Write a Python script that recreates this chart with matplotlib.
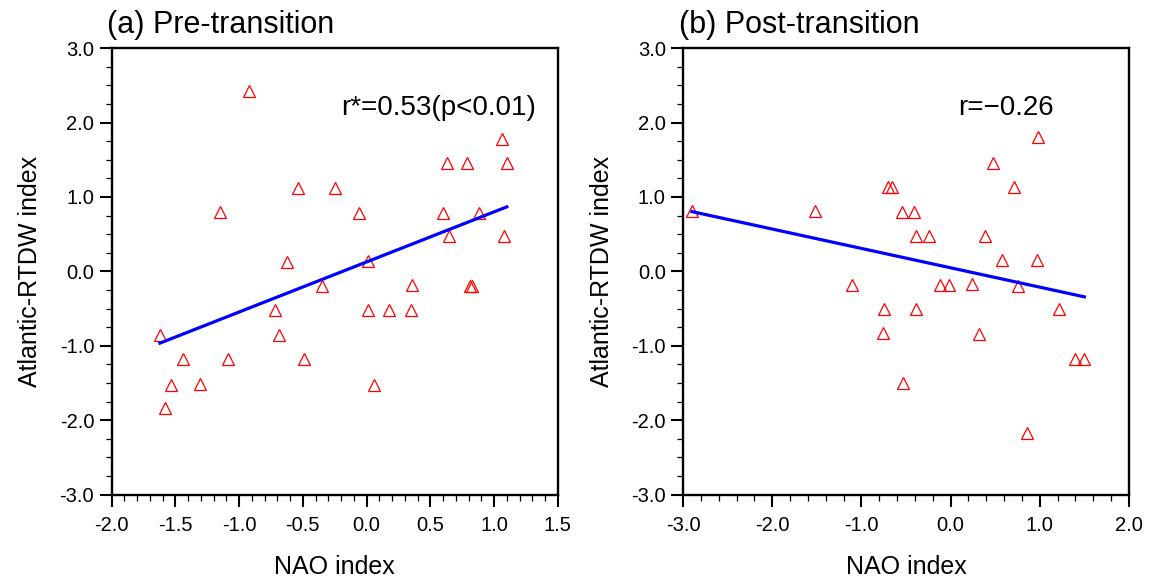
import numpy as np
import matplotlib
matplotlib.use("Agg")
import matplotlib.pyplot as plt
from matplotlib.ticker import MultipleLocator, FuncFormatter

plt.rcParams["font.family"] = ["Liberation Sans", "DejaVu Sans"]

# (a) pre-transition: NAO index vs Atlantic-RTDW index
pre_nao = [-0.92, -0.54, -1.15, -0.62,
           1.06, 0.63, 0.79, 1.10, -0.25, -0.06, 0.60, 0.88, 0.65, 1.08, 0.01,
           -1.62, -1.44, -1.53, -1.58, -1.31, -1.09, -0.72, -0.69, -0.49, -0.35,
           0.36, 0.81, 0.83, 0.01, 0.18, 0.35, 0.06]
pre_rtdw = [2.43, 1.12, 0.80, 0.13,
            1.78, 1.45, 1.45, 1.45, 1.12, 0.79, 0.79, 0.79, 0.47, 0.47, 0.14,
            -0.86, -1.18, -1.52, -1.84, -1.51, -1.18, -0.52, -0.85, -1.18, -0.19,
            -0.18, -0.19, -0.19, -0.52, -0.52, -0.52, -1.52]

# (b) post-transition
post_nao = [-2.90, -1.52, -0.70, -0.66,
            0.98, 0.47, 0.71, -0.54, -0.41, -0.39, -0.24, 0.39, 0.58, 0.97,
            -0.12, -0.02, 0.24, 0.76, -0.39, 1.22, 0.32, 1.39, 1.50, -0.53, 0.86,
            -1.11, -0.75, -0.76]
post_rtdw = [0.81, 0.81, 1.14, 1.14,
             1.80, 1.46, 1.14, 0.80, 0.80, 0.48, 0.48, 0.48, 0.15, 0.15,
             -0.18, -0.18, -0.17, -0.19, -0.51, -0.51, -0.84, -1.18, -1.18, -1.50, -2.17,
             -0.18, -0.50, -0.83]

titles = ["(a) Pre-transition", "(b) Post-transition"]
r_labels = ["r*=0.53(p<0.01)", "r=\u22120.26"]
r_xpos = [0.515, 0.617]
xlims = [(-2.0, 1.5), (-3.0, 2.0)]
x_major = [0.5, 1.0]
x_minor = [0.1, 0.2]

fig = plt.figure(figsize=(11.5, 5.83), dpi=100)
ax_a = fig.add_axes([0.097, 0.1515, 0.388, 0.766])
ax_b = fig.add_axes([0.594, 0.1515, 0.3877, 0.766])

fmt = FuncFormatter(lambda v, p: "%.1f" % v)

for i, (ax, xs, ys) in enumerate([(ax_a, pre_nao, pre_rtdw), (ax_b, post_nao, post_rtdw)]):
    xs = np.array(xs)
    ys = np.array(ys)
    ax.plot(xs, ys, linestyle="none", marker="^", markersize=8,
            markerfacecolor="none", markeredgecolor="red", markeredgewidth=0.9)
    k, b = np.polyfit(xs, ys, 1)
    xl = np.array([xs.min(), xs.max()])
    ax.plot(xl, k * xl + b, color="blue", lw=2.3)

    ax.set_xlim(*xlims[i])
    ax.set_ylim(-3.0, 3.0)
    ax.xaxis.set_major_locator(MultipleLocator(x_major[i]))
    ax.xaxis.set_minor_locator(MultipleLocator(x_minor[i]))
    ax.yaxis.set_major_locator(MultipleLocator(1.0))
    ax.yaxis.set_minor_locator(MultipleLocator(0.25))
    ax.xaxis.set_major_formatter(fmt)
    ax.yaxis.set_major_formatter(fmt)
    ax.tick_params(which="both", direction="out", top=False, right=False,
                   labelsize=14.5)
    ax.tick_params(which="major", length=8.5, width=1.5)
    ax.tick_params(which="minor", length=4.3, width=0.9)
    ax.tick_params(axis="x", which="major", pad=7)
    ax.tick_params(axis="y", which="major", pad=4)
    for sp in ax.spines.values():
        sp.set_linewidth(1.7)

    ax.set_xlabel("NAO index", fontsize=18, va="center")
    ax.xaxis.set_label_coords(0.5, -0.162)
    ax.set_ylabel("Atlantic-RTDW index", fontsize=18, va="center")
    ax.yaxis.set_label_coords(-0.183, 0.5)

    ax.text(-0.01, 1.034, titles[i], transform=ax.transAxes, fontsize=22,
            ha="left", va="baseline")
    ax.text(r_xpos[i], 0.866, r_labels[i], transform=ax.transAxes, fontsize=20,
            ha="left", va="center")

fig.savefig("out.png", dpi=100)
